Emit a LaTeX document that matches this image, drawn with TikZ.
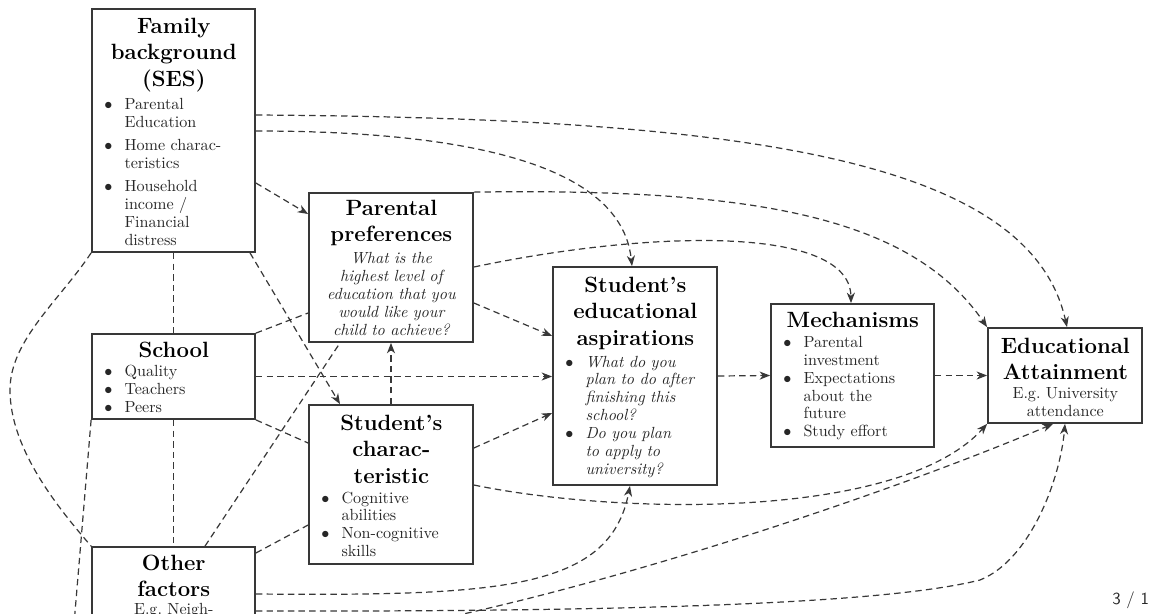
\documentclass[tikz,border=0pt]{standalone}
\usetikzlibrary{arrows.meta,fit}
\newcommand\ttl[1]{{\color{black}\fontsize{13.7}{16.7}\selectfont\bfseries\centering #1\par}}
\newcommand\bdy{\fontsize{10}{11.1}\selectfont\raggedright}
\newcommand\itm[1]{\par\noindent\hangindent=15pt\hangafter=1\makebox[15pt][l]{\hspace{2.5pt}$\bullet$}#1\par}
\begin{document}
\begin{tikzpicture}[x=0.62pt,y=-0.62pt,
  box/.style={draw=black!78,line width=1.1pt,inner sep=0pt},
  txt/.style={anchor=base west,inner sep=0pt,text width=#1,text=black!85},
  con/.style={draw=black!78,line width=0.75pt,dash pattern=on 4pt off 2.6pt},
  arr/.style={con,-{Stealth[length=6.5pt,width=5pt,inset=2pt]}}]
\useasboundingbox (0,0) rectangle (1151,613);
\clip (0,0) rectangle (1151,613);
% boxes
\node[box,fit={(92,9)(255,252)}] (fam) {};
\node[box,fit={(309,193)(473,342)}] (pref) {};
\node[box,fit={(553,267)(717,485)}] (asp) {};
\node[box,fit={(771,304)(934,447)}] (mech) {};
\node[box,fit={(988,328)(1142,423)}] (att) {};
\node[box,fit={(92,334)(255,419)}] (school) {};
\node[box,fit={(309,405)(473,564)}] (stu) {};
\node[box,fit={(92,547)(255,720)}] (oth) {};
% texts
\node[txt=91.1pt] (famt) at (100,33) {\ttl{Family\\background\\(SES)}\bdy\vspace{3.2pt}\itm{Parental\newline Education}\vspace{3.2pt}\itm{Home charac-\newline teristics}\vspace{3.2pt}\itm{Household\newline income /\newline Financial\newline distress}};
\node[txt=91.8pt] (preft) at (317,215) {\ttl{Parental\\preferences}\bdy\itshape\centering\vspace{2.2pt}What is the\\highest level of\\education that you\\would like your\\child to achieve?\par};
\node[txt=91.8pt] (aspt) at (561,292) {\ttl{Student's\\educational\\aspirations}\bdy\itshape\vspace{2pt}\itm{What do you\newline plan to do after\newline finishing this\newline school?}\itm{Do you plan\newline to apply to\newline university?}};
\node[txt=91.1pt] (mecht) at (779,327) {\ttl{Mechanisms}\bdy\vspace{1.5pt}\itm{Parental\newline investment}\itm{Expectations\newline about the\newline future}\itm{Study effort}};
\node[txt=85.6pt] (attt) at (996,353) {\ttl{Educational\\Attainment}\bdy\centering\vspace{0.7pt}E.g.\ University\\attendance\par};
\node[txt=91.1pt] (schoolt) at (100,357) {\ttl{School}\bdy\vspace{1pt}\itm{Quality}\itm{Teachers}\itm{Peers}};
\node[txt=91.8pt] (stut) at (317,430) {\ttl{Student's\\charac-\\teristic}\bdy\vspace{0.8pt}\itm{Cognitive\newline abilities}\itm{Non-cognitive\newline skills}};
\node[txt=91.1pt] (otht) at (100,570) {\ttl{Other\\factors}\bdy\centering E.g.\ Neigh-\par};
\node[anchor=base west,inner sep=0pt,text=black!85,font=\sffamily\fontsize{10.5}{12}\selectfont] (pg) at (1112,604) {3 / 1};
\coordinate (sbelow) at (71,660);
\coordinate (obelow) at (255,645);
% connectors
\draw[arr] (fam.east |- 0,115) .. controls (750,118) and (1030,160) .. (att.north -| 1067,0);
\draw[arr] (fam.east |- 0,131) .. controls (560,131) and (625,200) .. (asp.north -| 632,0);
\draw[arr] (fam.east |- 0,183) -- (pref.west |- 0,214);
\draw[arr] (fam.south -| 250,0) -- (stu.north -| 340,0);
\draw[con] (fam.south west) .. controls (60,300) and (10,340) .. (10,390) .. controls (10,450) and (60,510) .. (oth.north west);
\draw[con] (fam.south) -- (school.north);
\draw[con] (school.south) -- (oth.north);
\draw[con] (school.north east) -- (pref.west |- 0,313);
\draw[arr] (school.east) -- (asp.west |- school.east);
\draw[con] (school.south east) -- (stu.west |- 0,443);
\draw[con] (school.south west) -- (sbelow);
\draw[con] (oth.north -| 205,0) -- (pref.south -| 340,0);
\draw[con] (oth.east |- 0,553) -- (stu.west |- 0,525);
\draw[arr] (stu.north -| 391,0) -- (pref.south -| 391,0);
\draw[arr] (pref.east |- 0,267) .. controls (650,230) and (850,225) .. (mech.north -| 851,0);
\draw[arr] (pref.east |- 0,303) -- (asp.west |- 0,336);
\draw[arr] (pref.north east) .. controls (750,188) and (910,215) .. (att.north west);
\draw[arr] (stu.east |- 0,448) -- (asp.west |- 0,413);
\draw[arr] (stu.east |- 0,485) .. controls (620,515) and (900,520) .. (att.south west);
\draw[arr] (oth.east |- 0,594) .. controls (500,596) and (610,590) .. (asp.south -| 630,0);
\draw[arr] (oth.east |- 0,611) .. controls (700,612) and (900,600) .. (980,580) .. controls (1030,560) and (1060,480) .. (att.south -| 1065,0);
\draw[arr] (obelow) .. controls (450,640) and (850,510) .. (att.south -| 1053,0);
\draw[arr] (asp.east) -- (mech.west);
\draw[arr] (mech.east) -- (att.west);
\end{tikzpicture}
\end{document}
